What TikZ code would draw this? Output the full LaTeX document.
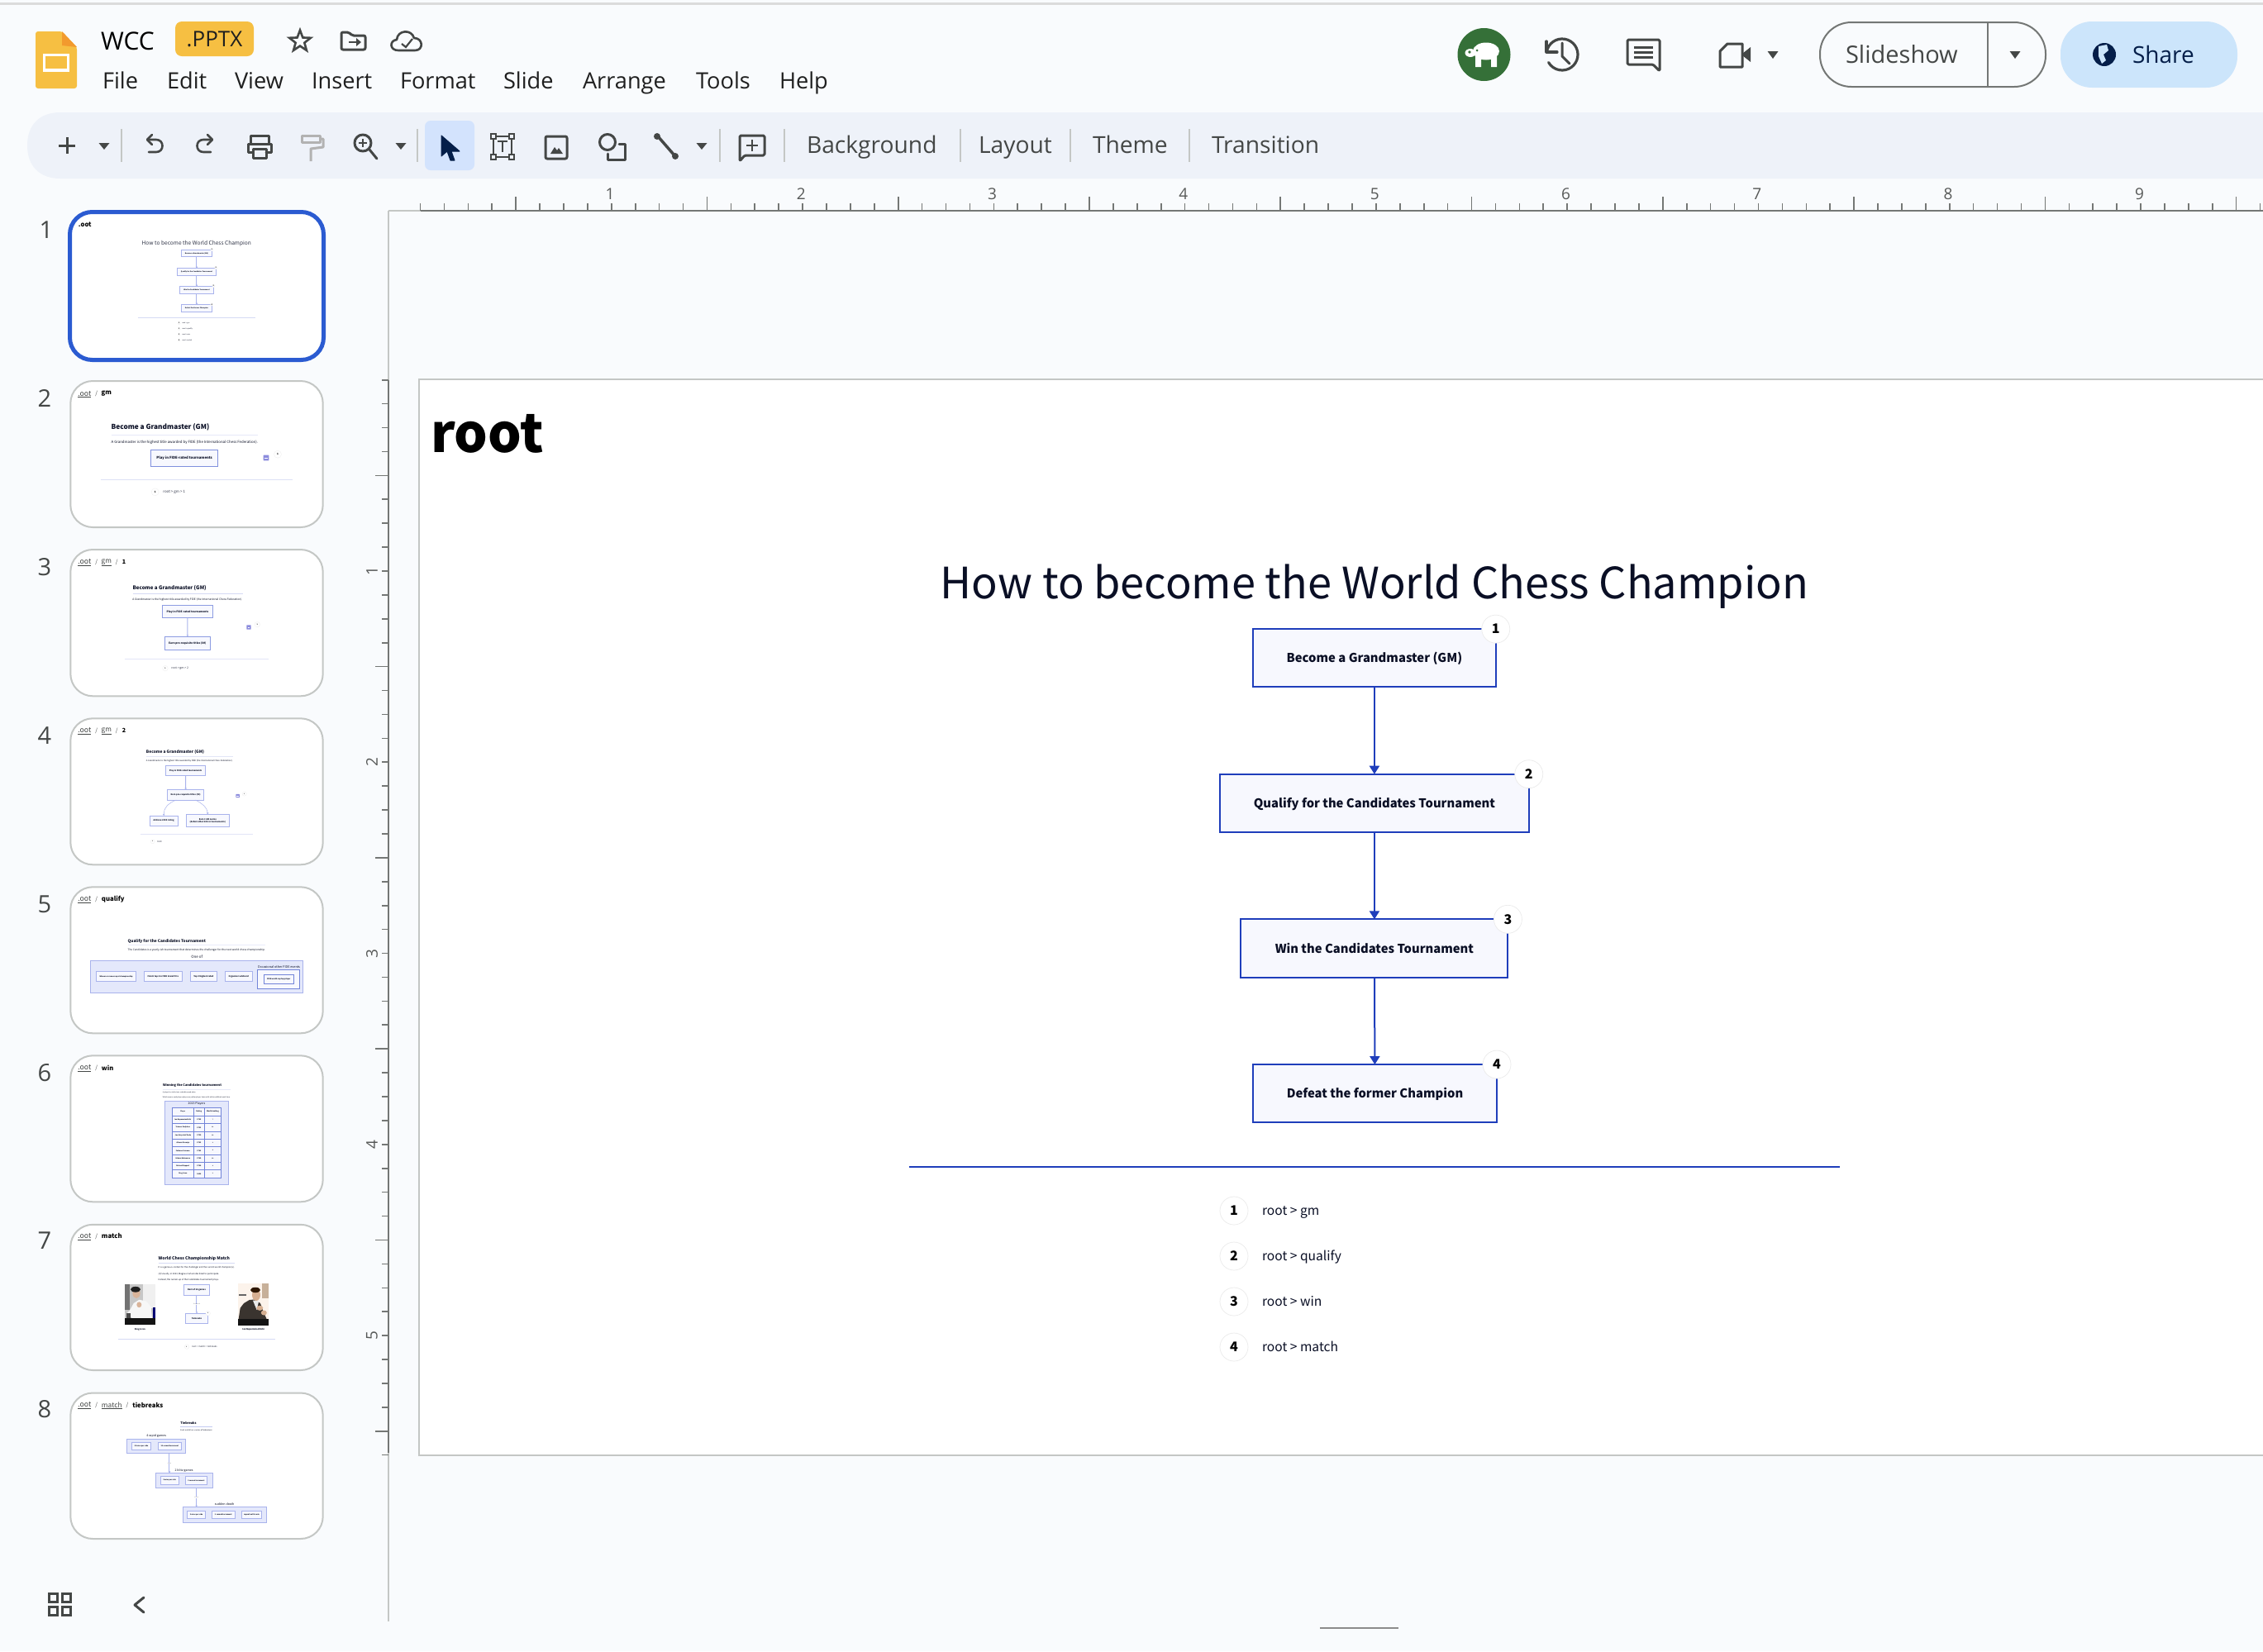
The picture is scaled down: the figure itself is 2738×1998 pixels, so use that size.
\documentclass[tikz,border=0pt]{standalone}
\usepackage{fontspec}
\usepackage{graphicx}
\setmainfont{Open Sans}
\newfontfamily\srcf{Noto Sans CJK SC}
\usetikzlibrary{arrows.meta,shapes.geometric}
\definecolor{pagebg}{HTML}{F9FBFD}
\definecolor{barbg}{HTML}{EEF2F9}
\definecolor{icongray}{HTML}{444746}
\definecolor{uitext}{HTML}{1F1F1F}
\definecolor{rulerc}{HTML}{747775}
\definecolor{edgegray}{HTML}{C4C7C5}
\definecolor{slidesy}{HTML}{F6BF42}
\definecolor{slideso}{HTML}{F29A2E}
\definecolor{mainblue}{HTML}{1F3EBB}
\definecolor{boxfill}{HTML}{F7F8FE}
\definecolor{tink}{HTML}{0A0F25}
\definecolor{tline}{HTML}{A9B3EC}
\definecolor{thr}{HTML}{D5DAF4}
\definecolor{tpanel}{HTML}{E4E8FB}
\definecolor{selblue}{HTML}{2B5BD1}
\definecolor{sharebg}{HTML}{CCE5FB}
\definecolor{cursorbg}{HTML}{D3E3FD}
\definecolor{avatarg}{HTML}{357038}
\definecolor{globec}{HTML}{041E49}
\definecolor{skin}{HTML}{D9B49A}
\definecolor{suit}{HTML}{3A342F}
\newcommand{\fz}[1]{\fontsize{#1}{#1}\selectfont}
\tikzset{
  ui/.style={anchor=base west,inner sep=0,outer sep=0,text=uitext},
  tool/.style={anchor=base west,inner sep=0,outer sep=0,text=icongray,font=\fz{28.2}},
  rnum/.style={inner sep=0,outer sep=0,text=rulerc!75!black,font=\fz{19}},
  sidenum/.style={inner sep=0,outer sep=0,text=icongray,font=\fz{29}},
  icon/.style={draw=icongray,line width=3pt,line cap=round,line join=round,fill=none},
  tsep/.style={draw=edgegray,line width=1.3pt},
  mainbox/.style={draw=mainblue,line width=2pt,fill=boxfill,inner sep=0,outer sep=0,text=tink,font=\srcf\bfseries\fz{14.8},text height=15pt,text depth=3.6pt},
  badge/.style={circle,draw=black!8,line width=.7pt,fill=white,minimum size=34pt,inner sep=0,outer sep=0,font=\srcf\bfseries\fz{16},text=black},
  mainarrow/.style={draw=mainblue,line width=2pt,-{Triangle[length=10pt,width=12pt]}},
  tfitstyle/.style={anchor=west,inner sep=0,outer sep=0,font=\srcf,text=tink},
  tboxstyle/.style={draw=tline,line width=.8pt,fill=boxfill,inner sep=0,outer sep=0,font=\srcf,text=tink},
  tconn/.style={draw=tline,line width=1pt,-{Triangle[length=2pt,width=2.4pt]}},
  thrule/.style={draw=thr,line width=.7pt},
  tbadge/.style={circle,draw=black!7,line width=.3pt,fill=white,inner sep=0,outer sep=0,font=\srcf\bfseries,text=black},
  tpanelst/.style={draw=tline,line width=.8pt,fill=tpanel},
  hdrline/.style={draw=icongray,line width=.5pt},
  thumb/.style={draw=edgegray,line width=2pt,fill=white,rounded corners=27pt},
}
% thumbnail helpers: coordinates are in zoomed (3x) units
\newcommand{\tfit}[6][]{\node[tfitstyle,#1] (#2) at (#3,#4) {\resizebox{\dimexpr #5pt/3\relax}{!}{\fz{10}#6}};}
\newcommand{\tbox}[8][]{\node[tboxstyle,#1,minimum width={(#5-#3)/3*1pt},minimum height={(#6-#4)/3*1pt}] (#2) at ({(#3+#5)/2},{(#4+#6)/2}) {\resizebox{\dimexpr #7pt/3\relax}{!}{\fz{10}\bfseries #8}};}
\newcommand{\tbdgB}[6]{\node[tbadge,minimum size=#4pt,font=\srcf\bfseries\fz{#5}] (#1) at (#2,#3) {#6};}
\newcommand{\tarrowicon}[3]{\fill[fill=black!30!blue!45!white,rounded corners=.5pt] ({#1-#3},{#2-#3}) rectangle ({#1+#3},{#2+#3});
  \draw[white,line width=.7pt] ({#1-.55*#3},#2) -- ({#1+.5*#3},#2);}
\newcommand{\glow}[3]{\foreach \rr in {1.2,1.5,1.8,2.1,2.4}{\fill[black,opacity=.0015] (#1,#2) circle[radius=\rr*#3 pt];}}
\begin{document}
\begin{tikzpicture}[x=1pt,y=-1pt]
\useasboundingbox (0,0) rectangle (2738,1998);
\fill[pagebg] (0,0) rectangle (2738,1998);
\fill[black!14] (0,3) rectangle (2738,6);
% logo
\fill[slidesy,rounded corners=3pt] (43,38) -- (75,38) -- (93,57) -- (93,107) -- (43,107) -- cycle;
\fill[slideso] (75,38) -- (93,57) -- (75,55) -- cycle;
\fill[white] (52,65) rectangle (84,87);
\fill[slidesy] (55,68) rectangle (81,83);
\node[ui,font=\fz{30},text=black] (docname) at (122,60) {WCC};
\node[fill=slidesy,rounded corners=8pt,minimum width=95pt,minimum height=42pt,inner sep=0,text=uitext,font=\fz{26}] (badgepptx) at (259.5,47) {.PPTX};
\node[star,star points=5,star point ratio=2.4,draw=icongray,line width=2.6pt,minimum size=27pt,inner sep=0] (starI) at (363,50) {};
% move folder
\draw[icon,rounded corners=2pt] (413,39) -- (422,39) -- (426,43) -- (442,43) -- (442,60) -- (413,60) -- cycle;
\draw[icongray,line width=2pt] (422,51) -- (433,51);
\fill[icongray] (431,46) -- (437,51) -- (431,56) -- cycle;
% cloud
\draw[icon,line width=2.6pt] (482,61) .. controls (471,61) and (471,49) .. (480,48) .. controls (481,36) and (498,35) .. (501,46) .. controls (512,46) and (513,61) .. (502,61) -- cycle;
\draw[icongray,line width=2.2pt] (486,53) -- (491,57) -- (499,47);
% menu
\foreach \n/\lab/\xx in {m1/File/124,m2/Edit/202,m3/View/284,m4/Insert/377,m5/Format/484,m6/Slide/609,m7/Arrange/705,m8/Tools/842,m9/Help/943}{
  \node[ui,font=\fz{27.2}] (\n) at (\xx,107) {\lab};
}
% toolbar
\fill[barbg] (73,136) .. controls (47,136) and (33,152) .. (33,176) .. controls (33,200) and (47,216) .. (73,216) -- (2738,216) -- (2738,136) -- cycle;
\fill[icongray] (79.5,166) rectangle (82.5,186);
\fill[icongray] (71,174.5) rectangle (91,177.5);
\foreach \tx in {126,485,849}{\fill[icongray] (\tx-6.5,173) -- (\tx+6.5,173) -- (\tx,181) -- cycle;}
\foreach \sx in {147,505,871,949,1162,1295,1439}{\draw[tsep] (\sx,156) -- (\sx,196);}
% undo redo
\draw[icon,line width=2.6pt] (179,169) -- (189,169) .. controls (199,169) and (199,184) .. (189,184) -- (180,184);
\draw[icon,line width=2.6pt] (184,163) -- (178,169) -- (184,175);
\draw[icon,line width=2.6pt] (256,169) -- (246,169) .. controls (236,169) and (236,184) .. (246,184) -- (255,184);
\draw[icon,line width=2.6pt] (251,163) -- (257,169) -- (251,175);
% print
\draw[icon,line width=3pt] (303,174) -- (303,164) -- (325,164) -- (325,174);
\draw[icon,line width=3pt] (306,184) -- (300,184) -- (300,174) -- (328,174) -- (328,184) -- (322,184);
\draw[icon,line width=3pt] (306,180) rectangle (322,191);
% paint
\draw[black!30,line width=3pt,line join=round] (365,164) rectangle (387,172);
\draw[black!30,line width=3pt,line join=round] (387,168) -- (391,168) -- (391,178) -- (376,180) -- (376,195);
% zoom
\draw[icon] (439,173) circle[radius=10pt];
\draw[icon] (447,181) -- (456,192);
\draw[icongray,line width=2pt] (434,173) -- (444,173) (439,168) -- (439,178);
% cursor
\fill[cursorbg,rounded corners=7pt] (514,146) rectangle (574,206);
\fill[globec,draw=globec,line width=1pt,line join=round] (534,164) -- (556,183) -- (546,183) -- (550,194) -- (545,194) -- (541,183) -- (534,189) -- cycle;
% textbox
\draw[icon,line width=2.4pt] (597,165) rectangle (619,190);
\foreach \cx/\cy in {597/165,619/165,597/190,619/190}{\fill[icongray] (\cx-4,\cy-4) rectangle (\cx+4,\cy+4); \fill[barbg] (\cx-1.7,\cy-1.7) rectangle (\cx+1.7,\cy+1.7);}
\draw[icongray,line width=2pt] (602,171) -- (614,171) (608,171) -- (608,184);
% image
\draw[icon,rounded corners=2pt] (660,165) rectangle (686,192);
\fill[icongray] (666,186) -- (671,178) -- (674,182) -- (676,179) -- (681,186) -- cycle;
% shape
\draw[icon] (735,172) circle[radius=9.5pt];
\draw[icon] (749,174) -- (756,174) -- (756,193) -- (735,193) -- (735,186);
% line
\draw[icon,line width=3.5pt] (796,165) -- (816,188);
\fill[icongray] (795,165) circle[radius=4pt] (817,189) circle[radius=4pt];
% add comment
\draw[icon,rounded corners=1.5pt] (895,164) -- (925,164) -- (925,188) -- (901,188) -- (895,195) -- cycle;
\draw[icongray,line width=2.4pt] (910,169) -- (910,183) (903,176) -- (917,176);
\node[tool] (tb1) at (976,185) {Background};
\node[tool] (tb2) at (1184,185) {Layout};
\node[tool] (tb3) at (1322,185) {Theme};
\node[tool] (tb4) at (1466,185) {Transition};
% right header
\fill[avatarg] (1795.5,66) circle[radius=32pt];
\fill[white] (1798,62) ellipse[x radius=16pt,y radius=10.5pt];
\fill[white] (1779,64) ellipse[x radius=6.5pt,y radius=5pt];
\fill[white] (1785,68) rectangle (1792,81) (1804,68) rectangle (1811,81);
\fill[avatarg] (1778,63) circle[radius=1.8pt] (1787,61) circle[radius=1.5pt];
\draw[icon,line width=3.2pt] (1871.3,62.7) arc (170:-150:19pt);
\draw[icon,line width=3.2pt] (1871,50) -- (1871,63) -- (1884,63);
\draw[icon,line width=3pt] (1890,52) -- (1890,68) -- (1899,77);
\draw[icon,line width=3pt,rounded corners=1.5pt] (1969,48) -- (2008,48) -- (2008,86) -- (2000,78) -- (1969,78) -- cycle;
\foreach \ly in {57,63,69}{\draw[icongray,line width=3pt] (1977,\ly) -- (2000,\ly);}
\draw[icon,line width=3pt] (2090,53) -- (2108,53) -- (2108,81) -- (2081,81) -- (2081,62) -- cycle;
\fill[icongray] (2108,65) -- (2118,57) -- (2118,75) -- (2108,67) -- cycle;
\foreach \tx in {2145,2438}{\fill[icongray] (\tx-6.5,62) -- (\tx+6.5,62) -- (\tx,71) -- cycle;}
\draw[rulerc,line width=2pt,rounded corners=38pt] (2202,27) rectangle (2475,105);
\draw[rulerc,line width=1.4pt] (2405,27) -- (2405,105);
\node[ui,font=\fz{29},text=icongray] (slideshow) at (2233,76) {Slideshow};
\fill[sharebg,rounded corners=38pt] (2493,26) rectangle (2707,106);
\fill[globec] (2546,66) circle[radius=14pt];
\fill[sharebg] (2539,56) -- (2549,54) -- (2551,61) -- (2545,66) -- (2548,73) -- (2543,77) -- (2539,68) -- cycle;
\node[ui,font=\fz{28},text=globec] (share) at (2580,76) {Share};
% rulers
\draw[edgegray,line width=2pt] (470,255) -- (509,255);
\draw[rulerc,line width=2.2pt] (509,255) -- (2738,255);
\foreach \i in {0,...,77}{
  \pgfmathtruncatemacro\m{mod(\i,8)}
  \pgfmathsetmacro\tickx{508.5+28.91*\i}
  \ifnum\m=4 \draw[rulerc,line width=1.6pt] (\tickx,238) -- (\tickx,255);
  \else \draw[rulerc,line width=1.6pt] (\tickx,246) -- (\tickx,255);\fi
}
\foreach \n in {1,...,9}{
  \pgfmathsetmacro\numx{506.7+231.3*\n}
  \node[rnum] (hr\n) at (\numx,235) {\n};
}
\draw[edgegray,line width=2pt] (470,255) -- (470,460);
\draw[rulerc,line width=2.2pt] (470,460) -- (470,1758);
\draw[edgegray,line width=2pt] (470,1758) -- (470,1962);
\foreach \i in {0,...,45}{
  \pgfmathtruncatemacro\m{mod(\i,8)}
  \pgfmathsetmacro\ticky{459.7+28.91*\i}
  \ifnum\m=4 \draw[rulerc,line width=1.6pt] (454,\ticky) -- (470,\ticky);
  \else \draw[rulerc,line width=1.6pt] (462,\ticky) -- (470,\ticky);\fi
}
\foreach \n in {1,...,5}{
  \pgfmathsetmacro\numy{459.7+231.3*\n}
  \node[rnum,rotate=90] (vr\n) at (450,\numy) {\n};
}
% slide
\fill[white] (507,459) rectangle (2738,1761);
\draw[edgegray,line width=2pt] (2738,459) -- (507,459) -- (507,1761) -- (2738,1761);
\node[anchor=base west,inner sep=0,outer sep=0,font=\srcf\bfseries\fz{64},text=black] (slidename) at (521,547) {root};
\node[anchor=base,inner sep=0,outer sep=0,font=\srcf\fz{52.3},text=tink] (slidetitle) at (1663,724.5) {How to become the World Chess Champion};
\glow{1815}{770}{30}\glow{1855}{945}{30}\glow{1830}{1120}{30}\glow{1816}{1296}{30}
\node[mainbox,minimum width=293.7pt,minimum height=69.7pt] (b1) at (1662.9,796) {Become a Grandmaster (GM)};
\node[mainbox,minimum width=373.7pt,minimum height=70pt] (b2) at (1662.9,971.7) {Qualify for the Candidates Tournament};
\node[mainbox,minimum width=323pt,minimum height=70.4pt] (b3) at (1662.9,1147.5) {Win the Candidates Tournament};
\node[mainbox,minimum width=295pt,minimum height=70.3pt] (b4) at (1663.5,1323.2) {Defeat the former Champion};
\draw[mainarrow] (b1) -- (b2);
\draw[mainarrow] (b2) -- (b3);
\draw[mainarrow] (b3) -- (b4);
\node[badge] (n1) at (b1.north east) {1};
\node[badge] (n2) at (b2.north east) {2};
\node[badge] (n3) at (b3.north east) {3};
\node[badge] (n4) at (b4.north east) {4};
\coordinate (hrA) at (1100,1412);
\coordinate (hrB) at (2226,1412);
\draw[mainblue,line width=1.2pt] (hrA) -- (hrB);
\glow{1493}{1465}{30}\glow{1493}{1520}{30}\glow{1493}{1575}{30}\glow{1493}{1630}{30}
\foreach \k/\ly/\lab in {1/1465/root > gm,2/1520/root > qualify,3/1575/root > win,4/1630/root > match}{
  \node[badge] (l\k) at (1493,\ly) {\k};
  \node[anchor=base west,inner sep=0,outer sep=0,font=\srcf\fz{15.6},text=tink] (lt\k) at (1527,\ly+5.5) {\lab};
}
% sidebar numbers
\foreach \k/\xx/\yy in {1/56/278,2/54/482,3/54/686,4/54/890,5/54/1094,6/54/1298,7/54/1501,8/54/1705}{
  \node[sidenum] (sn\k) at (\xx,\yy) {\k};
}
% thumbnail frames
\draw[selblue,line width=5pt,fill=white,rounded corners=27pt] (84.5,256.5) rectangle (391.5,435.5);
\foreach \t/\ta/\tb in {2/461/638,3/665/842.3,4/869.3/1046.3,5/1073.3/1250.3,6/1277.3/1454.3,7/1481.8/1658,8/1685.5/1862}{
  \draw[thumb] (85.3,\ta) rectangle (390.7,\tb);
}
%%%%%%%%%%%% thumb 1 and 2
\begin{scope}[shift={(0,240)},x=0.33333pt,y=-0.33333pt]
\tfit[text=black]{h1a}{285}{96}{47}{\bfseries .oot}
\tfit[text=tink!85]{t1t}{515}{165}{397}{How to become the World Chess Champion}
\tbox{t1b1}{658}{188}{770}{212}{84}{Become a Grandmaster (GM)}
\tbox{t1b2}{643}{254}{785}{280}{114}{Qualify for the Candidates Tournament}
\tbox{t1b3}{652}{320}{776}{346}{94}{Win the Candidates Tournament}
\tbox{t1b4}{658}{386}{770}{412}{84}{Defeat the former Champion}
\draw[tconn] (t1b1) -- (t1b2);
\draw[tconn] (t1b2) -- (t1b3);
\draw[tconn] (t1b3) -- (t1b4);
\tbdgB{t1n1}{769}{186}{3.5}{2}{1}
\tbdgB{t1n2}{784}{252}{3.5}{2}{2}
\tbdgB{t1n3}{775}{318}{3.5}{2}{3}
\tbdgB{t1n4}{769}{385}{3.5}{2}{4}
\draw[thrule] (501,433) -- (927,433);
\foreach \k/\ly/\lab/\lw in {1/453/root > gm/26,2/473/root > qualify/37,3/494/root > win/28,4/515/root > match/35}{
  \tbdgB{t1l\k}{650}{\ly}{3.5}{2}{\k}
  \tfit{t1lt\k}{662}{\ly}{\lw}{\lab}
}
% thumb 2
\tfit[text=icongray]{h2a}{283}{709}{48}{.oot}
\draw[hdrline] (283,721) -- (331,721);
\tfit[text=icongray]{h2b}{346}{709}{8}{/}
\tfit[text=black]{h2c}{368}{709}{37}{\bfseries gm}
\tfit{t2t}{404}{832}{356}{\bfseries Become a Grandmaster (GM)}
\draw[thrule,draw=thr!60] (404,860) -- (936,860);
\tfit{t2p}{404}{885}{532}{A Grandmaster is the highest title awarded by FIDE (the International Chess Federation).}
\tbox[draw=tline!70!mainblue]{t2b1}{548}{914}{791}{974}{202}{Play in FIDE-rated tournaments}
\tarrowicon{966}{942}{10}
\tbdgB{t2n}{1008}{929}{9}{3}{1}
\draw[thrule,line width=1pt,draw=thr!80] (366,1020) -- (1061,1020);
\tbdgB{t2l}{563}{1066}{9}{3}{1}
\tfit[text=tink!85]{t2lt}{592}{1066}{80}{root > gm > 1}
\end{scope}
%%%%%%%%%%%% thumb 3 and 4
\begin{scope}[shift={(0,660)},x=0.33333pt,y=-0.33333pt]
\tfit[text=icongray]{h3a}{283}{60}{48}{.oot}
\draw[hdrline] (283,72) -- (331,72);
\tfit[text=icongray]{h3b}{346}{60}{8}{/}
\tfit[text=icongray]{h3c}{368}{60}{37}{gm}
\draw[hdrline] (368,72) -- (405,72);
\tfit[text=icongray]{h3d}{420}{60}{8}{/}
\tfit[text=black]{h3e}{444}{60}{13}{\bfseries 1}
\tfit{t3t}{482}{156}{267}{\bfseries Become a Grandmaster (GM)}
\draw[thrule] (482,175) -- (881,175);
\tfit{t3p}{481}{197}{399}{A Grandmaster is the highest title awarded by FIDE (the International Chess Federation).}
\tbox[draw=tline!80!mainblue]{t3b1}{589}{218}{773}{263}{152}{Play in FIDE-rated tournaments}
\tbox[draw=tline!80!mainblue]{t3b2}{597}{331}{764}{378}{136}{Earn pre-requisite titles (IM)}
\draw[tconn] (t3b1) -- (t3b2);
\tarrowicon{903}{297}{8}
\tbdgB{t3n}{934}{287}{6.5}{2}{1}
\draw[thrule,draw=thr!70] (453,411) -- (975,411);
\tbdgB{t3l}{600}{446}{6.5}{2}{1}
\tfit[text=tink!85]{t3lt}{622}{446}{62}{root > gm > 2}
% thumb 4
\tfit[text=icongray]{h4a}{283}{672}{48}{.oot}
\draw[hdrline] (283,684) -- (331,684);
\tfit[text=icongray]{h4b}{346}{672}{8}{/}
\tfit[text=icongray]{h4c}{368}{672}{37}{gm}
\draw[hdrline] (368,684) -- (405,684);
\tfit[text=icongray]{h4d}{420}{672}{8}{/}
\tfit[text=black]{h4e}{444}{672}{13}{\bfseries 2}
\tfit{t4t}{531}{750}{210}{\bfseries Become a Grandmaster (GM)}
\draw[thrule,draw=thr!70] (531,767) -- (845,767);
\tfit{t4p}{531}{783}{314}{A Grandmaster is the highest title awarded by FIDE (the International Chess Federation).}
\tbox{t4b1}{601}{799}{746}{835}{118}{Play in FIDE-rated tournaments}
\tbox{t4b2}{608}{887}{740}{924}{108}{Earn pre-requisite titles (IM)}
\tbox{t4b3}{544}{981}{645}{1018}{75}{Achieve 2500 rating}
\tbox{t4b4}{676}{976}{832}{1022}{130}{\shortstack{Earn 3 GM norms\\(defeat other GMs in tournaments)}}
\draw[tconn] (t4b1) -- (t4b2);
\coordinate (t4s1) at (640,924);
\coordinate (t4s2) at (708,924);
\draw[tconn,line width=.5pt] (t4s1) .. controls (610,935) and (594,955) .. (t4b3.north);
\draw[tconn,line width=.5pt] (t4s2) .. controls (735,935) and (753,955) .. (t4b4.north);
\tarrowicon{863}{909}{6.5}
\tbdgB{t4n}{887}{902}{5}{1.6}{1}
\draw[thrule,draw=thr!70] (510,1048) -- (918,1048);
\tbdgB{t4l}{554}{1075}{5}{1.6}{1}
\tfit[text=tink!85]{t4lt}{570}{1075}{17}{root}
\end{scope}
%%%%%%%%%%%% thumb 5 and 6
\begin{scope}[shift={(0,1060)},x=0.33333pt,y=-0.33333pt]
\tfit[text=icongray]{h5a}{283}{84}{48}{.oot}
\draw[hdrline] (283,96) -- (331,96);
\tfit[text=icongray]{h5b}{346}{84}{8}{/}
\tfit[text=black]{h5c}{369}{84}{83}{\bfseries qualify}
\tfit{t5t}{464}{237}{283}{\bfseries Qualify for the Candidates Tournament}
\draw[thrule,draw=thr!50] (464,250) -- (963,250);
\tfit{t5p}{464}{268}{499}{The Candidates is a yearly-ish tournament that determines the challenger for the next world chess championship.}
\tfit{t5o}{694}{294}{41}{One of}
\fill[tpanel,draw=tline,line width=.8pt] (328,306) rectangle (1100,425);
\tbox{t5b1}{349}{347}{494}{383}{120}{Winner or runner-up at championship}
\tbox{t5b2}{524}{347}{660}{383}{112}{Finish top 2 in FIDE Grand Prix}
\tbox{t5b3}{691}{347}{787}{383}{72}{Top 3 highest rated}
\tbox{t5b4}{817}{347}{915}{383}{72}{Organizer wildcard}
\tfit{t5l}{936}{329}{153}{Occasional other FIDE events}
\fill[boxfill,draw=tline!60!mainblue,line width=.8pt] (935,340) rectangle (1088,410);
\tbox[draw=tline!60!mainblue]{t5b5}{957}{358}{1067}{391}{85}{FIDE world cup top player}
% thumb 6
\tfit[text=icongray]{h6a}{283}{696}{48}{.oot}
\draw[hdrline] (283,708) -- (331,708);
\tfit[text=icongray]{h6b}{346}{696}{8}{/}
\tfit[text=black]{h6c}{369}{696}{43}{\bfseries win}
\tfit{t6t}{591}{761}{213}{\bfseries Winning the Candidates tournament}
\draw[thrule,draw=thr!60] (591,775) -- (836,775);
\tfit{t6p1}{591}{786}{120}{A player has to first win a double round robin.}
\tfit{t6p2}{591}{803}{245}{Which means each player plays every other player twice with white and black each time.}
\fill[tpanel,draw=tline,line width=.8pt] (598,817) rectangle (830,1120);
\tfit{t6c}{683}{827}{62}{2023 Players}
\fill[boxfill] (625,841) rectangle (803,1096);
\foreach \lx in {625,703,742,803}{\draw[tline!60!mainblue,line width=.5pt] (\lx,841) -- (\lx,1096);}
\foreach \ly in {841,871,899,927,955,983,1011,1039,1067,1096}{\draw[tline!60!mainblue,line width=.5pt] (625,\ly) -- (803,\ly);}
\foreach \rw/\ly/\pl/\pw/\rt/\aw/\wk/\ww in {0/856/Player/18/Rating/20/World ranking/44,1/885/Ian Nepomniachtchi/60/2795/15/7/3,2/913/Teimour Radjabov/52/2753/15/18/6,3/941/Jan-Krzysztof Duda/58/2750/15/20/6,4/969/Alireza Firouzja/46/2793/15/3/3,5/997/Fabiano Caruana/50/2783/15/4/3,6/1025/Hikaru Nakamura/52/2760/15/10/6,7/1053/Richard Rapport/48/2764/15/9/3,8/1081/Ding Liren/30/2806/15/2/3}{
  \node[tfitstyle,anchor=center] (p\rw) at (664,\ly) {\resizebox{\dimexpr \pw pt/3\relax}{!}{\fz{10}\bfseries \pl}};
  \node[tfitstyle,anchor=center] (q\rw) at (722.5,\ly) {\resizebox{\dimexpr \aw pt/3\relax}{!}{\fz{10}\bfseries \rt}};
  \node[tfitstyle,anchor=center] (s\rw) at (772.5,\ly) {\resizebox{\dimexpr \ww pt/3\relax}{!}{\fz{10}\bfseries \wk}};
}
\end{scope}
%%%%%%%%%%%% thumb 7 and 8
\begin{scope}[shift={(0,1470)},x=0.33333pt,y=-0.33670pt]
\tfit[text=icongray]{h7a}{283}{77}{48}{.oot}
\draw[hdrline] (283,89) -- (331,89);
\tfit[text=icongray]{h7b}{346}{77}{8}{/}
\tfit[text=black]{h7c}{369}{77}{74}{\bfseries match}
\tfit{t7t}{575}{157}{259}{\bfseries World Chess Championship Match}
\draw[thrule] (575,174) -- (852,174);
\tfit{t7p1}{575}{190}{276}{It is a game-vs-contest for the challenger and the current world champion(s).}
\tfit{t7p2}{575}{212}{220}{(4) Usually, in 2023, Magnus Carlsen declined to participate.}
\tfit{t7p3}{575}{234}{220}{Instead, the runner-up of the Candidates tournament plays.}
% left photo
\fill[black!22] (452,250) rectangle (564,394);
\fill[black!55] (452,250) rectangle (472,340);
\fill[black!6] (520,250) rectangle (564,335);
\fill[black!3] (470,345) -- (485,318) -- (505,305) -- (530,310) -- (548,330) -- (552,372) -- (480,372) -- (462,352) -- cycle;
\fill[skin] (495,282) ellipse[x radius=4.6pt,y radius=6pt];
\fill[black!88] (492,268) ellipse[x radius=6pt,y radius=3.4pt];
\fill[skin] (505,323) ellipse[x radius=3pt,y radius=3.4pt];
\fill[black!70] (460,352) rectangle (475,372);
\fill[blue!45!black] (556,333) rectangle (564,372);
\fill[black!92] (452,372) rectangle (564,394);
% right photo
\fill[black!14!orange!8!white] (864,246) rectangle (976,398);
\fill[black!55!orange!40] (950,246) rectangle (976,300);
\fill[black!60] (868,285) rectangle (895,291);
\fill[suit] (866,375) -- (872,335) -- (885,318) -- (905,306) -- (925,304) -- (945,318) -- (955,345) -- (968,375) -- cycle;
\fill[white!92!black] (918,308) -- (940,308) -- (932,342) -- cycle;
\fill[skin!90!brown] (930,288) ellipse[x radius=5pt,y radius=7pt];
\fill[black!82!orange] (927,270) ellipse[x radius=6pt,y radius=3.2pt];
\fill[skin!90!brown] (943,335) ellipse[x radius=4pt,y radius=3pt];
\fill[skin!90!brown] (958,352) ellipse[x radius=3.5pt,y radius=3pt];
\fill[black!92] (864,375) rectangle (976,398);
\tbox{t7b1}{667}{251}{761}{288}{65}{Best of 14 games}
\tbox{t7b2}{673}{354}{755}{391}{37}{Tiebreaks}
\draw[tconn] (t7b1) -- (t7b2);
\node[fill=white,inner sep=0,outer sep=0,font=\srcf\fz{1.6},text=tink!70] (t7el) at (714,322) {if required};
\tbdgB{t7n}{755}{354}{5.5}{1.7}{1}
\node[tfitstyle,anchor=center] (t7c1) at (508,412) {\resizebox{13pt}{!}{\fz{10}\bfseries Ding Liren}};
\node[tfitstyle,anchor=center] (t7c2) at (920,412) {\resizebox{26.6pt}{!}{\fz{10}\bfseries Ian Nepomniachtchi}};
\draw[thrule] (430,446) -- (998,446);
\tbdgB{t7l}{678}{474}{5.5}{1.7}{1}
\tfit[text=tink!85]{t7lt}{696}{474}{92}{root > match > tiebreaks}
% thumb 8
\tfit[text=icongray]{h8a}{283}{683}{48}{.oot}
\draw[hdrline] (283,695) -- (331,695);
\tfit[text=icongray]{h8b}{346}{683}{8}{/}
\tfit[text=icongray]{h8c}{369}{683}{74}{match}
\draw[hdrline] (369,695) -- (443,695);
\tfit[text=icongray]{h8d}{458}{683}{8}{/}
\tfit[text=black]{h8e}{481}{683}{111}{\bfseries tiebreaks}
\tfit{t8t}{655}{748}{58}{\bfseries Tiebreaks}
\draw[thrule,draw=tline!70] (655,761) -- (772,761);
\tfit{t8p}{655}{773}{117}{Each match has a series of tiebreakers.}
\tfit{t8l1}{532}{795}{71}{4 rapid games}
\node[tpanelst,minimum width={214/3*1pt},minimum height={52/3*1pt},inner sep=0,outer sep=0] (t8g1) at (567,831) {};
\tbox{t8a1}{478}{817}{548}{845}{50}{25 mins per side}
\tbox{t8a2}{574}{817}{658}{845}{64}{10 second increment}
\tfit{t8l2}{635}{918}{66}{2 blitz games}
\node[tpanelst,minimum width={206/3*1pt},minimum height={54/3*1pt},inner sep=0,outer sep=0] (t8g2) at (668,955) {};
\tbox{t8b1}{583}{940}{648}{968}{46}{5 mins per side}
\tbox{t8b2}{673}{940}{752}{968}{60}{3 second increment}
\tfit{t8l3}{780}{1040}{70}{sudden death}
\node[tpanelst,minimum width={304/3*1pt},minimum height={55/3*1pt},inner sep=0,outer sep=0] (t8g3) at (816,1077.5) {};
\tbox{t8c1}{680}{1064}{746}{1091}{46}{3 mins per side}
\tbox{t8c2}{770}{1064}{852}{1091}{62}{2 second increment}
\tbox{t8c3}{877}{1064}{950}{1091}{56}{repeat until a win}
\coordinate (t8s1) at (615,857);
\coordinate (t8e1) at (615,928);
\coordinate (t8s2) at (713,982);
\coordinate (t8e2) at (713,1050);
\draw[tconn] (t8s1) -- (t8e1);
\draw[tconn] (t8s2) -- (t8e2);
\node[fill=white,inner sep=0,outer sep=0,font=\srcf\fz{1.6},text=tink!60] (t8e1l) at (615,892) {if tied};
\node[fill=white,inner sep=0,outer sep=0,font=\srcf\fz{1.6},text=tink!60] (t8e2l) at (713,1016) {if tied};
\end{scope}
% bottom icons
\foreach \gx/\gy in {59.5/1928.5,75.5/1928.5,59.5/1944.5,75.5/1944.5}{\draw[icongray,line width=3.2pt] (\gx,\gy) rectangle ++(10,10);}
\draw[icon] (174,1933) -- (163,1942) -- (174,1951);
\draw[black!45,line width=2.6pt] (1597,1970) -- (1692,1970);
\end{tikzpicture}
\end{document}
